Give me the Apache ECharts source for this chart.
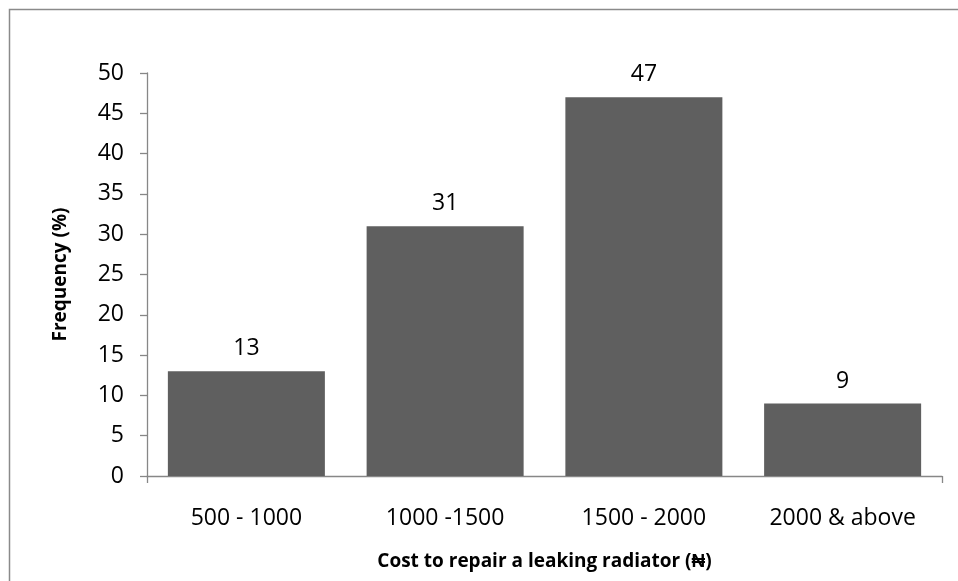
<!DOCTYPE html>
<html>
<head>
<meta charset="utf-8">
<script src="https://cdn.jsdelivr.net/npm/echarts@6/dist/echarts.min.js"></script>
<style>
html,body{margin:0;padding:0;background:#fff;}
#chart{width:958px;height:581px;}
</style>
</head>
<body>
<div id="chart"></div>
<script>
const categories = ['500 - 1000', '1000 -1500', '1500 - 2000', '2000 & above'];
const frequency = [13, 31, 47, 9];
const yTicks = {min: 0, max: 50, interval: 5};
const xTitle = 'Cost to repair a leaking radiator (\u20A6)';
const yTitle = 'Frequency (%)';

const FONT = '"Open Sans", sans-serif';
const chart = echarts.init(document.getElementById('chart'), null, {renderer: 'canvas'});
chart.setOption({
  animation: false,
  backgroundColor: '#ffffff',
  graphic: [{
    type: 'rect', silent: true, z: -1,
    shape: {x: 9.5, y: 9.5, width: 1200, height: 1200},
    style: {fill: 'none', stroke: '#8a8a8a', lineWidth: 1.5}
  }],
  grid: {left: 147, right: 16, top: 73, bottom: 105, containLabel: false},
  xAxis: [{
    type: 'category',
    data: categories,
    axisLine: {show: true, lineStyle: {color: '#878787', width: 1.3}},
    axisTick: {show: false},
    axisLabel: {color: '#000', fontFamily: FONT, fontSize: 23, margin: 31},
    name: xTitle,
    nameLocation: 'middle',
    nameGap: 76,
    nameTextStyle: {color: '#000', fontFamily: FONT, fontSize: 19, fontWeight: 'bold'}
  }, {
    type: 'value', position: 'bottom', min: 0, max: 4, interval: 4,
    axisLine: {show: false},
    axisTick: {show: true, length: 7, lineStyle: {color: '#878787', width: 1.3}},
    axisLabel: {show: false},
    splitLine: {show: false}
  }],
  yAxis: {
    type: 'value',
    min: yTicks.min, max: yTicks.max, interval: yTicks.interval,
    axisLine: {show: true, lineStyle: {color: '#878787', width: 1.3}},
    axisTick: {show: true, length: 7, lineStyle: {color: '#878787', width: 1.3}},
    axisLabel: {color: '#000', fontFamily: FONT, fontSize: 23, margin: 23},
    splitLine: {show: false},
    name: yTitle,
    nameLocation: 'middle',
    nameGap: 77,
    nameRotate: 90,
    nameTextStyle: {color: '#000', fontFamily: FONT, fontSize: 19, fontWeight: 'bold'}
  },
  series: [{
    type: 'bar',
    xAxisIndex: 0,
    data: frequency,
    barCategoryGap: '21%',
    itemStyle: {color: '#5f5f5f'},
    label: {show: true, position: 'top', distance: 11, color: '#000', fontFamily: FONT, fontSize: 23}
  }]
});
</script>
</body>
</html>
